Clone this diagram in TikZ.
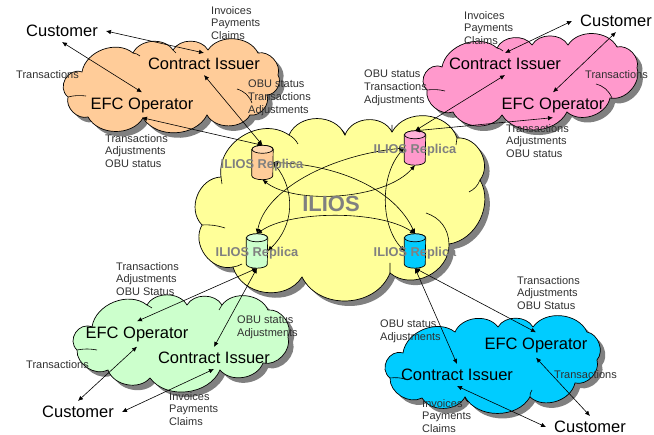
\documentclass[tikz,border=0pt]{standalone}
\usepackage{fontspec}
\setmainfont{Liberation Sans}
\usetikzlibrary{arrows.meta}
\definecolor{cOrange}{HTML}{FFCC99}
\definecolor{cPink}{HTML}{FF99CC}
\definecolor{cYellow}{HTML}{FFFF99}
\definecolor{cGreen}{HTML}{CCFFCC}
\definecolor{cBlue}{HTML}{00CCFF}
\definecolor{cGrey}{HTML}{808080}
\definecolor{cInk}{HTML}{303030}
\tikzset{
  x=1pt,y=-1pt,
  lobe/.style={bend right=60,looseness=1},
  biglobe/.style={bend right=80,looseness=1.35},
  hublobe/.style={bend right=66,looseness=1.1},
  cloudshadow/.style={fill=cGrey,draw=none,shift={(5,5)}},
  cloudbody/.style={fill=#1,draw=black,line width=.7pt},
  crease/.style={draw=black,line width=.6pt,fill=none},
  orangepath/.style={insert path={(82,72) to[biglobe] (68,97) to[lobe] (88,117) to[lobe] (143,118) to[lobe] (207,115) to[lobe] (250,115) to[lobe] (267,95) to[lobe] (278,75) to[lobe] (258,53) to[lobe] (208,50) to[lobe] (173,50) to[lobe] (133,53) to[lobe] cycle}},
  pinkpath/.style={insert path={(442,67) to[biglobe] (427,90) to[lobe] (453,112) to[lobe] (502,115) to[lobe] (567,112) to[lobe] (610,98) to[lobe] (637,68) to[lobe] (617,47) to[lobe] (568,45) to[lobe] (532,45) to[lobe] (497,48) to[lobe] cycle}},
  greenpath/.style={insert path={(92,327) to[biglobe] (77,350) to[lobe] (108,370) to[lobe] (150,378) to[lobe] (220,370) to[lobe] (263,363) to[lobe] (288,337) to[lobe] (268,310) to[lobe] (222,305) to[lobe] (187,305) to[lobe] (147,305) to[lobe] cycle}},
  bluepath/.style={insert path={(403,353) to[biglobe] (390,378) to[lobe] (422,398) to[lobe] (465,397) to[lobe] (530,397) to[lobe] (575,383) to[lobe] (597,360) to[lobe] (587,332) to[lobe] (533,327) to[lobe] (498,327) to[lobe] (455,332) to[lobe] cycle}},
  yellowpath/.style={insert path={(202,225) to[hublobe] (233,267) to[hublobe] (302,277) to[hublobe] (390,273) to[hublobe] (449,244) to[bend right=56] (480,180) to[hublobe] (457,138) to[hublobe] (392,132) to[hublobe] (345,135) to[hublobe] (289,135) to[hublobe] (221,177) to[hublobe] cycle}},
  role/.style={font=\fontsize{16.5}{18}\selectfont,inner xsep=8pt,inner ysep=5pt,text=black},
  note/.style={font=\fontsize{11}{12.6}\selectfont,align=left,anchor=north west,inner sep=0pt,text=cInk},
  replicaname/.style={font=\fontsize{12.8}{14}\selectfont\bfseries,text=cGrey,inner sep=0pt},
  store/.style={rectangle,draw=none,minimum width=21pt,minimum height=34pt,inner sep=0pt},
  storebody/.style={fill=#1,draw=black,line width=.7pt},
  storelid/.style={fill=#1!75!white,draw=black,line width=.7pt},
  link/.style={draw=black,line width=.6pt,{Latex[length=5pt,width=4.5pt]}-{Latex[length=5pt,width=4.5pt]}},
}
\newcommand{\drum}[2]{%
  \path[storebody=#2] ([yshift=-4pt]#1.north west) -- ([yshift=4pt]#1.south west) arc[start angle=180,end angle=360,x radius=10.5pt,y radius=4pt] -- ([yshift=-4pt]#1.north east) arc[start angle=0,end angle=180,x radius=10.5pt,y radius=4pt] -- cycle;
  \path[storelid=#2] ([yshift=-4pt]#1.north) ellipse[x radius=10.5pt,y radius=4pt];
}
\begin{document}
\begin{tikzpicture}
\useasboundingbox (0,0) rectangle (654,435);
% clouds
\path[cloudshadow,yellowpath];
\path[cloudbody=cYellow,yellowpath];
\path[cloudshadow,orangepath];
\path[cloudbody=cOrange,orangepath];
\path[cloudshadow,pinkpath];
\path[cloudbody=cPink,pinkpath];
\path[cloudshadow,greenpath];
\path[cloudbody=cGreen,greenpath];
\path[cloudshadow,bluepath];
\path[cloudbody=cBlue,bluepath];
% creases
\path[crease] (68,97) to[bend left=10] (86,96) (237,89) to[bend left=25] (252,103) (133,53) to[bend left=15] (140,56) (173,50) to[bend left=15] (176,53);
\path[crease] (427,90) to[bend left=10] (445,91) (596,84) to[bend left=25] (612,98) (497,48) to[bend left=15] (503,51);
\path[crease] (77,350) to[bend left=10] (97,350) (147,305) to[bend left=10] (152,308) (222,305) to[bend left=15] (219,310);
\path[crease] (390,378) to[bend left=10] (405,379) (465,397) to[bend right=20] (468,402) (530,397) to[bend left=20] (532,390);
\path[crease] (221,177) -- (222,184) (289,135) to[bend left=15] (298,144) (345,135) to[bend left=15] (342,130) (392,132) -- (392,125) (457,138) to[bend right=10] (456,145) (480,180) to[bend left=20] (469,192) (426,213) to[bend left=35] (449,244) (390,273) -- (390,263) (202,225) to[bend left=10] (225,228) (233,267) to[bend right=10] (242,264);
% replicas
\node[store] (rO) at (262.5,162.5) {};
\node[store] (rP) at (415,148) {};
\node[store] (rG) at (257,251) {};
\node[store] (rB) at (415,251) {};
\drum{rO}{cOrange}
\drum{rP}{cPink}
\drum{rG}{cGreen}
\drum{rB}{cBlue}
% roles
\node[role] (cuO) at (62,31) {Customer};
\node[role] (ciO) at (204,64) {Contract Issuer};
\node[role] (efO) at (142,105) {EFC Operator};
\node[role] (cuP) at (616,21) {Customer};
\node[role] (ciP) at (505,64) {Contract Issuer};
\node[role] (efP) at (553,105) {EFC Operator};
\node[role] (cuG) at (78,412) {Customer};
\node[role] (ciG) at (214,358) {Contract Issuer};
\node[role] (efG) at (137,334) {EFC Operator};
\node[role] (cuB) at (590,427) {Customer};
\node[role] (ciB) at (457,375) {Contract Issuer};
\node[role] (efB) at (536,345) {EFC Operator};
% connectors
\draw[link] (cuO.east) -- (ciO.north);
\draw[link] (cuO.south) -- (efO.north);
\draw[link] (ciO.south) -- (rO.north);
\draw[link] (efO.south) -- (rO.north);
\draw[link] (cuP.west) -- (ciP.north);
\draw[link] (cuP.south) -- (efP.north);
\draw[link] (ciP.south) -- (rP.north);
\draw[link] (efP.south) -- (rP.north);
\draw[link] (cuG.north) -- (efG.south);
\draw[link] (cuG.east) -- (ciG.south);
\draw[link] (efG.north) -- (rG.south);
\draw[link] (ciG.north) -- (rG.south);
\draw[link] (efB.north) -- (rB.south);
\draw[link] (ciB.north) -- (rB.south);
\draw[link] (efB.south) -- (cuB.north);
\draw[link] (ciB.south) -- (cuB.west);
\draw[link] (rO.east) .. controls (295,190) and (295,225) .. (rG.east);
\draw[link] (rO.south) .. controls (295,205) and (385,200) .. (rP.south);
\draw[link] (rO.east) .. controls (340,165) and (395,190) .. (rB.north);
\draw[link] (rG.north) .. controls (265,190) and (330,155) .. (rP.west);
\draw[link] (rG.north) .. controls (290,210) and (380,210) .. (rB.north);
\draw[link] (rP.west) .. controls (380,175) and (380,225) .. (rB.west);
% replica names
\node[font=\fontsize{22}{24}\selectfont\bfseries,text=cGrey,inner sep=0pt] (hub) at (331,204) {ILIOS};
\node[replicaname] (nO) at (262,165) {ILIOS Replica};
\node[replicaname] (nP) at (415,150) {ILIOS Replica};
\node[replicaname] (nG) at (257,253) {ILIOS Replica};
\node[replicaname] (nB) at (415,253) {ILIOS Replica};
% notes
\node[note] (a1) at (211,6) {Invoices\\Payments\\Claims};
\node[note] (a2) at (16,70) {Transactions};
\node[note] (a3) at (248,80) {OBU status\\Transactions\\Adjustments};
\node[note] (a4) at (105,134) {Transactions\\Adjustments\\OBU status};
\node[note] (b1) at (464,11) {Invoices\\Payments\\Claims};
\node[note] (b2) at (585,70) {Transactions};
\node[note] (b3) at (364,70) {OBU status\\Transactions\\Adjustments};
\node[note] (b4) at (506,124) {Transactions\\Adjustments\\OBU status};
\node[note] (c1) at (116,262) {Transactions\\Adjustments\\OBU Status};
\node[note] (c2) at (237,316) {OBU status\\Adjustments};
\node[note] (c3) at (26,360) {Transactions};
\node[note] (c4) at (169,392) {Invoices\\Payments\\Claims};
\node[note] (d1) at (517,276) {Transactions\\Adjustments\\OBU Status};
\node[note] (d2) at (380,320) {OBU status\\Adjustments};
\node[note] (d3) at (554,370) {Transactions};
\node[note] (d4) at (422,399) {Invoices\\Payments\\Claims};
\end{tikzpicture}
\end{document}
